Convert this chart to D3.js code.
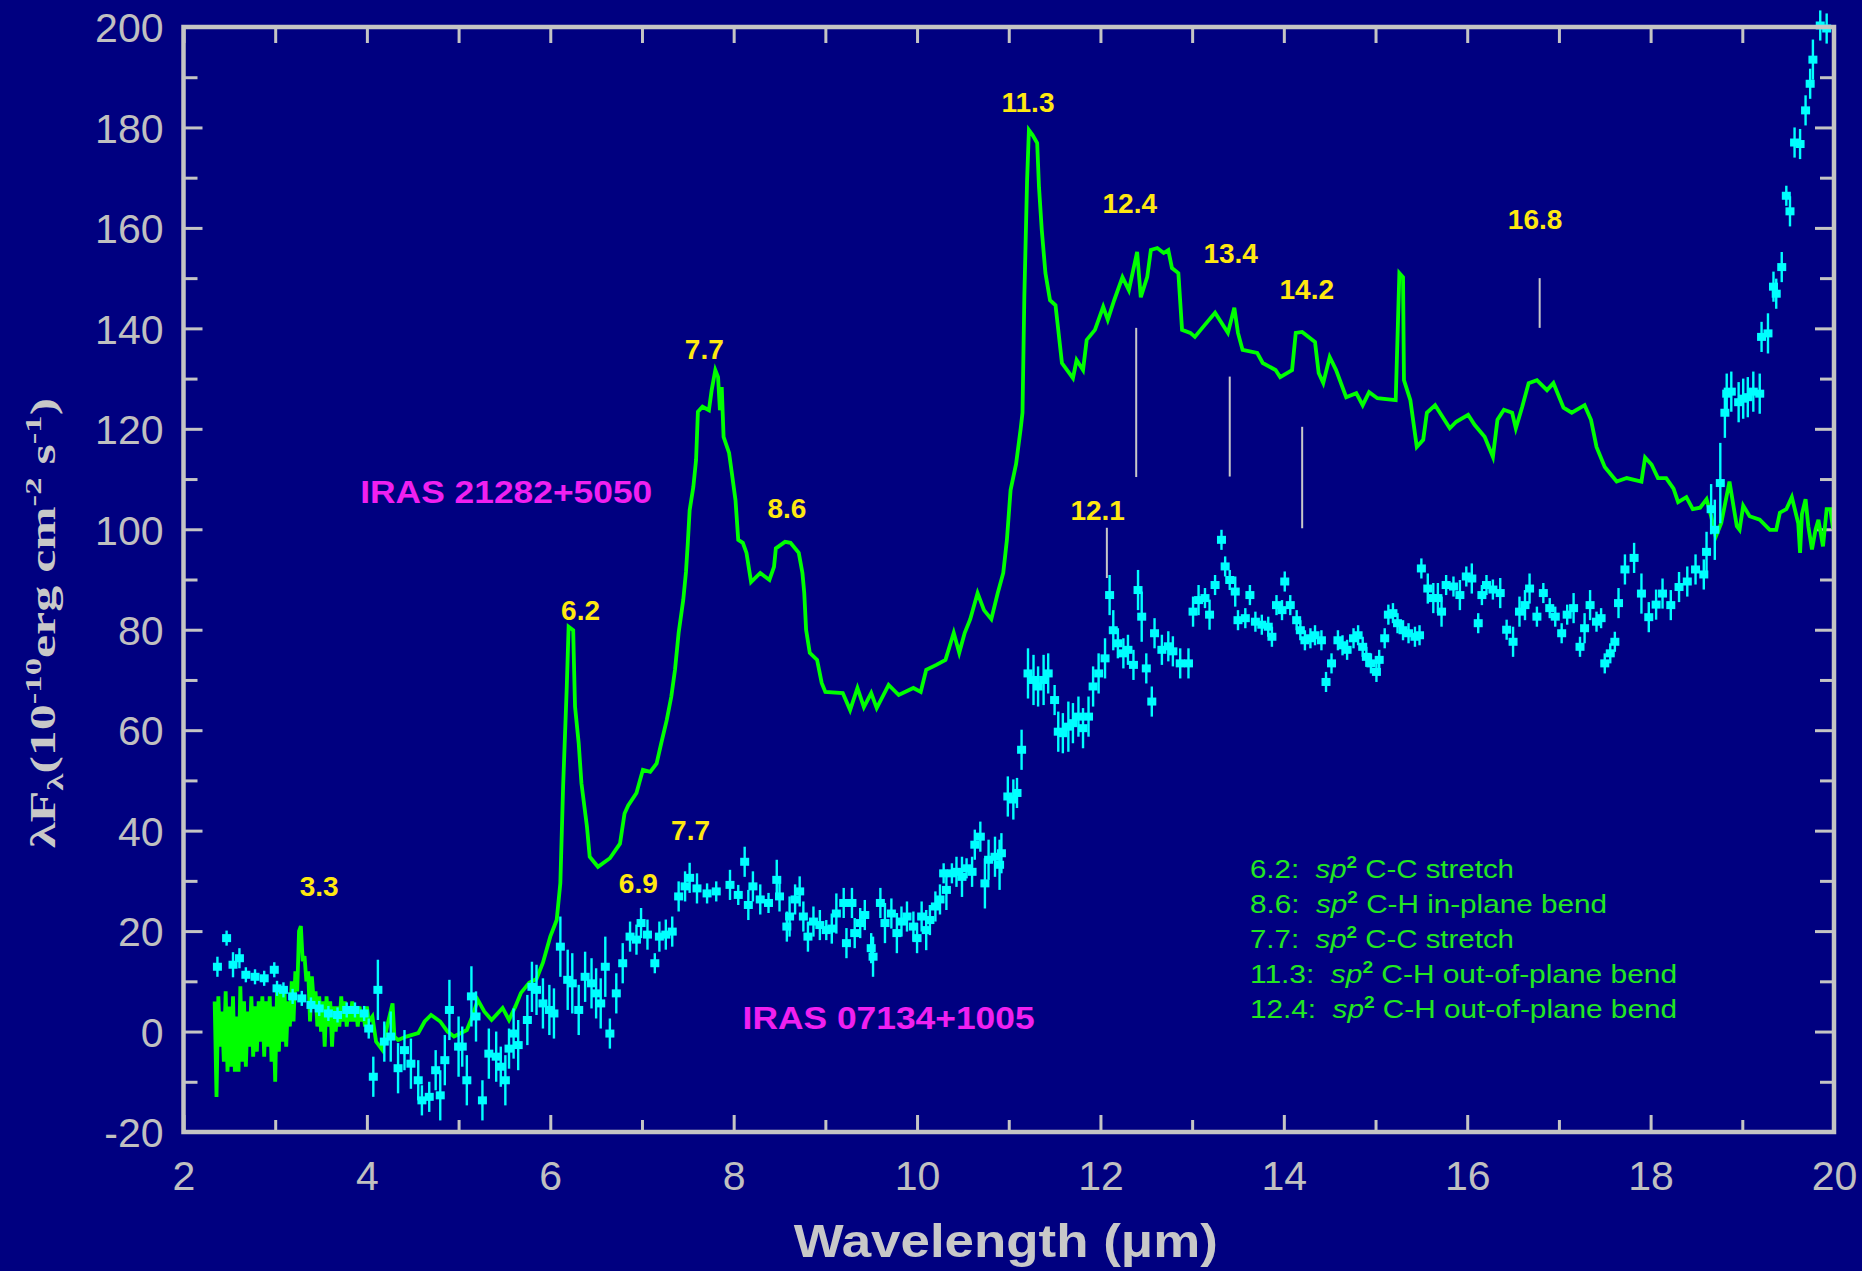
<!DOCTYPE html>
<html>
<head>
<meta charset="utf-8">
<script src="https://cdn.jsdelivr.net/npm/d3@7"></script>
<style>
  html, body { margin: 0; padding: 0; background: #000080; }
  svg { display: block; }
</style>
</head>
<body>
<div id="chart"></div>
<script>
// ---- data ----
const xTickValues = [2, 3, 4, 5, 6, 7, 8, 9, 10, 11, 12, 13, 14, 15, 16, 17, 18, 19, 20];
const xLabelValues = [2, 4, 6, 8, 10, 12, 14, 16, 18, 20];
const yTickValues = [-20, -10, 0, 10, 20, 30, 40, 50, 60, 70, 80, 90, 100, 110, 120, 130, 140, 150, 160, 170, 180, 190, 200];
const yLabelValues = [-20, 0, 20, 40, 60, 80, 100, 120, 140, 160, 180, 200];

// IRAS 21282+5050 (green line), [wavelength, flux]
const iras21282 = [
  [2.34, 6], [2.36, -13], [2.38, 7], [2.40, -3], [2.42, 4], [2.44, -6], [2.46, 8], [2.48, -8],
  [2.50, 5], [2.52, -7], [2.54, 7], [2.56, -8], [2.58, 3], [2.60, -8], [2.62, 9], [2.64, -6],
  [2.66, 6], [2.68, -7], [2.70, 4], [2.72, -3], [2.74, 7], [2.76, -5], [2.78, 5], [2.80, -4],
  [2.82, 6], [2.84, -2], [2.86, 7], [2.88, -5], [2.90, 6], [2.92, -3], [2.94, 7], [2.96, -6],
  [2.98, 5], [3.00, -10], [3.02, 8], [3.04, -4], [3.06, 8], [3.08, -2], [3.10, 9], [3.12, -3],
  [3.14, 6], [3.16, 1], [3.18, 10], [3.20, 2], [3.22, 12], [3.24, 8], [3.26, 20], [3.28, 21],
  [3.30, 14], [3.32, 15], [3.34, 10], [3.36, 12], [3.38, 2], [3.40, 11], [3.42, 6], [3.44, 8],
  [3.46, 1], [3.48, 7], [3.50, 0], [3.52, 6], [3.54, -3], [3.56, 7], [3.58, 1], [3.60, 6],
  [3.62, -3], [3.64, 5], [3.66, 0], [3.68, 5], [3.70, 1], [3.72, 7], [3.74, 2], [3.76, 6],
  [3.78, 1], [3.80, 5], [3.82, 2], [3.84, 6], [3.86, 2], [3.88, 5], [3.90, 1], [3.92, 5],
  [3.94, 2], [3.96, 4], [3.98, 1], [4.00, 5], [4.02, 2], [4.06, 3], [4.10, -2], [4.17, -3.7],
  [4.22, 1], [4.28, 5.6], [4.30, -1], [4.34, -1.7], [4.43, -1.0], [4.56, -0.3], [4.63, 2], [4.70, 3.3],
  [4.80, 2.0], [4.88, 0], [4.95, -1.0], [5.09, 0.3], [5.15, 3], [5.21, 6.3], [5.28, 4], [5.36, 2.3],
  [5.48, 4.7], [5.55, 2.3], [5.62, 5], [5.68, 7.7], [5.77, 9.7], [5.85, 10.5], [5.92, 13.7], [6.00, 18.9],
  [6.07, 22.2], [6.11, 29.6], [6.14, 48.8], [6.18, 68.7], [6.20, 80.6], [6.25, 79.9], [6.26, 72], [6.27, 64.7],
  [6.31, 57.4], [6.34, 49.4], [6.40, 40.8], [6.43, 34.8], [6.52, 32.8], [6.65, 34.5], [6.76, 37.4], [6.81, 43.4],
  [6.85, 45], [6.94, 47.5], [7.01, 52.1], [7.09, 51.7], [7.16, 53.4], [7.21, 57.4], [7.27, 62], [7.32, 66.7],
  [7.36, 72], [7.40, 79.4], [7.45, 85.9], [7.48, 91.5], [7.50, 97.3], [7.52, 103.8], [7.56, 108.4], [7.59, 113.8],
  [7.61, 123.4], [7.66, 124.4], [7.73, 123.7], [7.76, 127.7], [7.80, 131.7], [7.83, 130.3], [7.85, 123.7], [7.87, 128.3],
  [7.89, 118.4], [7.95, 115.2], [7.98, 111.2], [8.02, 105.8], [8.05, 97.9], [8.10, 97.3], [8.14, 95.3], [8.19, 89.5],
  [8.29, 91.3], [8.39, 89.9], [8.44, 92.5], [8.46, 96.2], [8.56, 97.5], [8.62, 97.3], [8.71, 95.3], [8.75, 91.3],
  [8.77, 87.3], [8.79, 80.0], [8.83, 75.4], [8.91, 74], [8.96, 69.4], [9.00, 67.6], [9.19, 67.4], [9.27, 64.0],
  [9.35, 68.4], [9.42, 64.6], [9.50, 67.4], [9.56, 64.4], [9.69, 69.0], [9.80, 67.0], [9.96, 68.4], [10.04, 67.6],
  [10.10, 72.0], [10.21, 73.0], [10.31, 74.0], [10.40, 79.4], [10.46, 75.4], [10.52, 79.4], [10.58, 82.1], [10.66, 87.3],
  [10.73, 83.9], [10.81, 82.1], [10.88, 87.3], [10.94, 91.3], [10.98, 97.9], [11.02, 107.8], [11.08, 113], [11.13, 120],
  [11.15, 123.2], [11.17, 146.3], [11.20, 169.5], [11.22, 179.5], [11.26, 178.5], [11.31, 176.9], [11.33, 168.1], [11.36, 159.6],
  [11.40, 151], [11.45, 145.6], [11.51, 144.6], [11.54, 139.7], [11.58, 133.1], [11.70, 130.1], [11.74, 133.7], [11.81, 131.7],
  [11.85, 137.7], [11.94, 139.7], [12.03, 144.3], [12.08, 141.7], [12.15, 145.6], [12.24, 150.2], [12.31, 147.6], [12.40, 155.2],
  [12.44, 146.2], [12.51, 150.2], [12.55, 155.6], [12.62, 156], [12.69, 155], [12.74, 155.6], [12.78, 152], [12.85, 151],
  [12.89, 139.7], [12.98, 139.1], [13.03, 138.3], [13.12, 140.3], [13.25, 143.1], [13.39, 139.1], [13.46, 144.1], [13.50, 139.1],
  [13.55, 135.7], [13.71, 135.1], [13.77, 133.1], [13.91, 131.7], [13.96, 130.3], [14.09, 131.7], [14.13, 139.1], [14.20, 139.3],
  [14.34, 137.3], [14.38, 131.1], [14.43, 129.1], [14.50, 134.3], [14.57, 131.7], [14.68, 126.3], [14.79, 127.1], [14.86, 124.7],
  [14.93, 127.3], [15.02, 126.1], [15.22, 125.7], [15.26, 151], [15.30, 150.2], [15.31, 129.7], [15.38, 125.7], [15.45, 116.4],
  [15.52, 117.8], [15.56, 123.2], [15.65, 124.7], [15.81, 120.1], [15.88, 121.4], [16.01, 122.8], [16.08, 120.8], [16.19, 118.4],
  [16.28, 114.4], [16.33, 121.8], [16.40, 123.8], [16.49, 123.2], [16.53, 120.1], [16.60, 124.4], [16.67, 129.1], [16.76, 129.7],
  [16.87, 127.7], [16.94, 129.1], [17.05, 124.2], [17.14, 123.2], [17.28, 124.7], [17.35, 121.8], [17.41, 116.4], [17.50, 112.4],
  [17.63, 109.5], [17.74, 110.2], [17.90, 109.5], [17.94, 114.3], [18.01, 112.9], [18.08, 110.2], [18.17, 110.2], [18.25, 108.1],
  [18.30, 105.4], [18.39, 106.4], [18.46, 104.0], [18.54, 104.3], [18.61, 106.0], [18.66, 102.6], [18.71, 98.5], [18.77, 101.2],
  [18.86, 109.5], [18.94, 100.6], [18.97, 99.9], [19.01, 104.7], [19.08, 102.6], [19.19, 101.9], [19.30, 99.9], [19.37, 99.9],
  [19.41, 103.3], [19.48, 104.0], [19.54, 106.4], [19.61, 101.2], [19.63, 95.3], [19.65, 103], [19.69, 106.0], [19.72, 100.6],
  [19.76, 96], [19.80, 100], [19.83, 101.9], [19.88, 96.6], [19.92, 104], [19.96, 104.0], [19.99, 100]
];

// IRAS 07134+1005 (cyan points), [wavelength, flux, error]
const iras07134 = [
  [2.37, 12.9, 2], [2.47, 18.6, 1.5], [2.54, 13.3, 2.5], [2.61, 14.6, 2], [2.68, 11.3, 1.5], [2.78, 10.9, 1.5],
  [2.88, 10.6, 1.5], [2.99, 12.3, 1.5], [3.02, 8.6, 1.5], [3.09, 8.3, 1.5], [3.19, 7.0, 1.5], [3.29, 6.6, 1.5],
  [3.39, 5.3, 1.5], [3.48, 4.6, 1.5], [3.58, 3.6, 1.5], [3.68, 3.3, 1.5], [3.78, 4.3, 1.5], [3.87, 4.3, 1.5],
  [3.97, 3.6, 1.5], [4.02, 0.6, 2], [4.07, -9.0, 4], [4.12, 8.3, 6], [4.19, -2.0, 4], [4.26, -1.0, 5],
  [4.34, -7.3, 5], [4.41, -3.7, 4], [4.48, -6.4, 5], [4.56, -9.7, 4], [4.60, -13.7, 3], [4.68, -13.0, 3],
  [4.75, -7.7, 4], [4.80, -12.7, 5], [4.85, -5.7, 5], [4.90, 4.3, 6], [5.00, -3.0, 6], [5.04, -3.0, 4],
  [5.09, -9.7, 5], [5.14, 7.0, 6], [5.19, 3.0, 5], [5.26, -13.7, 4], [5.33, -4.4, 5], [5.41, -5.0, 5],
  [5.46, -7.0, 4], [5.51, -9.7, 5], [5.55, -3.4, 4], [5.60, -0.4, 5], [5.65, -2.7, 5], [5.75, 2.3, 5],
  [5.80, 8.9, 5], [5.85, 8.3, 5], [5.92, 5.6, 5], [5.99, 4.3, 5], [6.04, 3.6, 5], [6.11, 16.9, 6],
  [6.19, 10.3, 6], [6.24, 9.6, 6], [6.31, 4.3, 5], [6.38, 10.9, 5], [6.45, 9.6, 5], [6.50, 7.6, 5],
  [6.55, 5.6, 5], [6.60, 12.9, 6], [6.65, -0.4, 3], [6.72, 7.6, 4], [6.79, 13.6, 4], [6.87, 18.9, 3],
  [6.94, 18.3, 3], [6.99, 21.6, 3], [7.06, 19.3, 3], [7.14, 13.6, 2], [7.19, 18.9, 3], [7.26, 19.3, 3],
  [7.33, 19.9, 3], [7.40, 26.9, 3], [7.47, 28.9, 3], [7.52, 30.6, 3], [7.60, 28.5, 3], [7.71, 27.5, 2],
  [7.81, 27.9, 2], [7.96, 29.2, 3], [8.05, 27.2, 2], [8.12, 33.8, 3], [8.16, 25.2, 3], [8.21, 28.9, 3],
  [8.29, 26.3, 3], [8.38, 25.6, 2], [8.47, 30.2, 4], [8.50, 26.9, 3], [8.58, 20.9, 3], [8.61, 22.9, 4],
  [8.67, 26.3, 3], [8.72, 27.9, 3], [8.76, 22.9, 3], [8.81, 18.9, 3], [8.87, 21.9, 3], [8.94, 21.2, 3],
  [9.01, 20.2, 2], [9.07, 20.5, 3], [9.12, 23.5, 4], [9.20, 25.6, 3], [9.23, 17.6, 3], [9.29, 25.6, 3],
  [9.32, 19.6, 3], [9.38, 21.6, 3], [9.43, 23.2, 3], [9.50, 16.6, 3], [9.52, 14.9, 4], [9.60, 25.6, 3],
  [9.65, 21.6, 4], [9.72, 23.5, 3], [9.78, 19.6, 4], [9.83, 21.9, 3], [9.89, 22.9, 3], [9.96, 20.9, 3],
  [10.00, 18.6, 3], [10.05, 22.9, 3], [10.10, 20.2, 4], [10.14, 22.2, 3], [10.20, 24.9, 3], [10.25, 26.3, 3],
  [10.29, 31.5, 2], [10.32, 28.2, 4], [10.38, 31.5, 2], [10.43, 31.8, 3], [10.49, 30.8, 4], [10.54, 32.5, 2],
  [10.60, 31.8, 3], [10.63, 37.2, 3], [10.69, 38.8, 3], [10.74, 29.5, 5], [10.78, 34.2, 4], [10.85, 34.8, 4],
  [10.90, 33.2, 5], [10.92, 35.5, 4], [10.99, 46.8, 4], [11.05, 46.2, 4], [11.09, 47.5, 3], [11.14, 56.1, 4],
  [11.21, 71.3, 5], [11.27, 70, 5], [11.32, 68.7, 4], [11.38, 70, 5], [11.43, 71.3, 4], [11.50, 66.0, 3],
  [11.54, 59.7, 4], [11.59, 59.4, 4], [11.65, 60.7, 5], [11.70, 61.4, 4], [11.76, 62.7, 4], [11.81, 60.4, 4],
  [11.87, 62.7, 4], [11.92, 68.7, 4], [11.98, 71.3, 4], [12.05, 74.3, 4], [12.10, 86.9, 4], [12.14, 79.9, 4],
  [12.19, 77.3, 3], [12.25, 75.3, 3], [12.30, 76.0, 3], [12.36, 73.0, 3], [12.41, 87.9, 4], [12.45, 82.6, 5],
  [12.50, 72.3, 3], [12.56, 65.7, 3], [12.59, 79.3, 3], [12.67, 76.0, 3], [12.74, 76.7, 3], [12.79, 75.7, 3],
  [12.87, 73.3, 3], [12.96, 73.3, 3], [13.01, 83.6, 3], [13.07, 85.9, 3], [13.14, 86.3, 2], [13.19, 83.0, 3],
  [13.25, 88.9, 2], [13.32, 97.9, 2], [13.36, 92.6, 2], [13.41, 89.9, 2], [13.47, 87.6, 3], [13.50, 81.9, 2],
  [13.58, 82.3, 2], [13.63, 86.9, 2], [13.69, 81.6, 2], [13.76, 81.0, 2], [13.83, 80.6, 2], [13.87, 78.6, 2],
  [13.92, 84.9, 2], [13.98, 83.9, 2], [14.01, 89.6, 2], [14.07, 84.9, 2], [14.14, 81.9, 2], [14.18, 79.9, 2],
  [14.23, 77.9, 2], [14.29, 78.3, 2], [14.34, 78.9, 2], [14.41, 77.9, 2], [14.46, 69.6, 2], [14.52, 73.3, 2],
  [14.59, 77.9, 2], [14.64, 76.9, 2], [14.69, 76.0, 2], [14.76, 78.3, 2], [14.81, 78.9, 2], [14.86, 76.6, 2],
  [14.90, 74.6, 2], [14.95, 73.3, 2], [15.01, 71.6, 2], [15.04, 74.0, 2], [15.10, 78.3, 2], [15.14, 83.0, 2],
  [15.19, 83.3, 2], [15.24, 81.3, 2], [15.30, 79.9, 2], [15.36, 79.3, 2], [15.43, 78.6, 2], [15.48, 78.9, 2],
  [15.50, 92.2, 2], [15.57, 88.2, 3], [15.63, 86.3, 3], [15.68, 86.3, 3], [15.72, 83.6, 3], [15.77, 88.9, 2],
  [15.85, 88.6, 2], [15.92, 86.9, 3], [15.99, 90.6, 2], [16.05, 90.2, 3], [16.12, 81.3, 2], [16.16, 86.9, 2],
  [16.21, 88.9, 2], [16.28, 88.0, 2], [16.36, 87.3, 3], [16.43, 80.0, 2], [16.50, 77.6, 3], [16.57, 83.6, 3],
  [16.63, 84.9, 3], [16.68, 88.2, 3], [16.76, 82.6, 2], [16.83, 87.3, 2], [16.90, 84.3, 2], [16.96, 82.6, 2],
  [17.03, 79.3, 2], [17.09, 83.0, 2], [17.16, 84.3, 3], [17.23, 76.6, 2], [17.28, 80.3, 3], [17.34, 84.9, 3],
  [17.41, 81.6, 2], [17.46, 82.3, 2], [17.50, 73.3, 2], [17.56, 75.3, 2], [17.61, 77.6, 2], [17.65, 85.3, 3],
  [17.72, 92, 3], [17.82, 94.3, 3], [17.90, 87.2, 4], [17.98, 82.5, 3], [18.06, 85, 3], [18.13, 87.2, 3],
  [18.22, 84.9, 3], [18.31, 88.5, 3], [18.40, 89.6, 3], [18.49, 92, 3], [18.58, 91, 3], [18.61, 95.5, 4],
  [18.66, 104.0, 5], [18.70, 99.9, 6], [18.76, 109.2, 8], [18.81, 123.2, 5], [18.83, 127.0, 4], [18.88, 127.4, 4],
  [18.96, 125.3, 4], [19.01, 126.0, 4], [19.06, 126.3, 4], [19.12, 127.4, 4], [19.19, 127.0, 4], [19.21, 138.3, 3],
  [19.28, 139, 4], [19.34, 148.3, 3], [19.37, 146.9, 3], [19.43, 152.2, 3], [19.48, 166.4, 2], [19.52, 163.3, 3],
  [19.57, 177.0, 3], [19.63, 176.7, 3], [19.69, 183.4, 3], [19.74, 188.7, 3], [19.77, 193.5, 4], [19.85, 200.3, 3],
  [19.92, 199.7, 3]
];

// band labels: [text, wavelength, flux at label centre]
const bandLabels = [
  ["3.3", 3.48, 29], ["6.2", 6.33, 84], ["7.7", 7.68, 136], ["8.6", 8.58, 104.2],
  ["11.3", 11.21, 185.1], ["12.4", 12.32, 165], ["13.4", 13.42, 155], ["14.2", 14.25, 147.8],
  ["16.8", 16.74, 161.7], ["12.1", 11.97, 103.8], ["6.9", 6.96, 29.6], ["7.7", 7.53, 40.1]
];
// marker ticks: [wavelength, flux top, flux bottom]
const bandMarks = [
  [12.07, 100.3, 90.3], [12.39, 140.1, 110.4], [13.41, 130.4, 110.5], [14.20, 120.4, 100.2], [16.79, 150, 140.1]
];
// object names: [name, wavelength, flux at centre]
const objectNames = [["IRAS 21282+5050", 5.52, 107.4], ["IRAS 07134+1005", 9.69, 2.7]];
// assignment notes
const noteBands = ["6.2:", "8.6:", "7.7:", "11.3:", "12.4:"];
const noteModes = ["C-C stretch", "C-H in-plane bend", "C-C stretch", "C-H out-of-plane bend", "C-H out-of-plane bend"];

// ---- layout ----
const W = 1862, H = 1271;
const margin = {top: 27, right: 28, bottom: 139, left: 183.5};
const width = W - margin.left - margin.right;
const height = H - margin.top - margin.bottom;
const axisColor = "#c4c4c4";

const svg = d3.select("#chart").append("svg")
  .attr("width", W).attr("height", H)
  .style("background", "#000080");

svg.append("rect").attr("width", W).attr("height", H).attr("fill", "#000080");

const chart = svg.append("g").attr("transform", "translate(" + margin.left + "," + margin.top + ")");

const xScale = d3.scaleLinear().domain([2, 20]).range([0, width]);
const yScale = d3.scaleLinear().domain([-20, 200]).range([height, 0]);

// axes, ticks pointing inward on all four sides
const isMajorX = d => d % 2 === 0;
const isMajorY = d => d % 20 === 0;

const axisB = chart.append("g").attr("transform", "translate(0," + height + ")")
  .call(d3.axisBottom(xScale).tickValues(xTickValues).tickSizeInner(-17).tickSizeOuter(0)
    .tickFormat(d => xLabelValues.includes(d) ? d : ""));
axisB.selectAll(".tick line").attr("y2", d => isMajorX(d) ? -17 : -12);
axisB.selectAll(".tick text").attr("y", 58).attr("dy", null);

const axisT = chart.append("g")
  .call(d3.axisTop(xScale).tickValues(xTickValues).tickSizeInner(-16).tickSizeOuter(0).tickFormat(""));

const axisL = chart.append("g")
  .call(d3.axisLeft(yScale).tickValues(yTickValues).tickSizeInner(-19).tickSizeOuter(0)
    .tickFormat(d => yLabelValues.includes(d) ? d : ""));
axisL.selectAll(".tick line").attr("x2", d => isMajorY(d) ? 19 : 14);
axisL.selectAll(".tick text").attr("x", -20).attr("dy", "0.36em");

const axisR = chart.append("g").attr("transform", "translate(" + width + ",0)")
  .call(d3.axisRight(yScale).tickValues(yTickValues).tickSizeInner(-19).tickSizeOuter(0).tickFormat(""));
axisR.selectAll(".tick line").attr("x2", d => isMajorY(d) ? -19 : -14);

chart.selectAll(".domain").remove();
chart.selectAll(".tick line").attr("stroke", axisColor).attr("stroke-width", 3);
chart.selectAll(".tick text")
  .attr("fill", "#c0c0c0")
  .style("font-family", "'Liberation Sans', Arial, sans-serif")
  .style("font-size", "41px");

// green spectrum
const line = d3.line().x(d => xScale(d[0])).y(d => yScale(d[1]));
chart.append("path")
  .datum(iras21282)
  .attr("d", line)
  .attr("fill", "none")
  .attr("stroke", "#00ff00")
  .attr("stroke-width", 3.8)
  .attr("stroke-linejoin", "miter");

// cyan points with error bars
const pts = chart.append("g").selectAll("g").data(iras07134).join("g");
pts.append("line")
  .attr("x1", d => xScale(d[0])).attr("x2", d => xScale(d[0]))
  .attr("y1", d => yScale(d[1] - d[2])).attr("y2", d => yScale(d[1] + d[2]))
  .attr("stroke", "#00ffff").attr("stroke-width", 2.4);
pts.append("rect")
  .attr("x", d => xScale(d[0]) - 4.5).attr("y", d => yScale(d[1]) - 4)
  .attr("width", 9).attr("height", 8)
  .attr("fill", "#00ffff");

// frame
chart.append("rect")
  .attr("width", width).attr("height", height)
  .attr("fill", "none").attr("stroke", axisColor).attr("stroke-width", 4.5);

// band marker lines
chart.append("g").selectAll("line").data(bandMarks).join("line")
  .attr("x1", d => xScale(d[0])).attr("x2", d => xScale(d[0]))
  .attr("y1", d => yScale(d[1])).attr("y2", d => yScale(d[2]))
  .attr("stroke", "#c8c8c8").attr("stroke-width", 2);

// band labels
chart.append("g").selectAll("text").data(bandLabels).join("text")
  .attr("x", d => xScale(d[1])).attr("y", d => yScale(d[2]))
  .attr("dy", "0.36em")
  .attr("text-anchor", "middle")
  .attr("fill", "#ffe810")
  .style("font-family", "'Liberation Sans', Arial, sans-serif")
  .style("font-weight", "bold")
  .style("font-size", "28px")
  .text(d => d[0]);

// object names
chart.append("g").selectAll("text").data(objectNames).join("text")
  .attr("x", d => xScale(d[1])).attr("y", d => yScale(d[2]))
  .attr("dy", "0.36em")
  .attr("text-anchor", "middle")
  .attr("textLength", 292).attr("lengthAdjust", "spacingAndGlyphs")
  .attr("fill", "#f020f0")
  .style("font-family", "'Liberation Sans', Arial, sans-serif")
  .style("font-weight", "bold")
  .style("font-size", "31px")
  .text(d => d[0]);

// assignment notes (absolute position, lower right)
const noteLengths = [264, 357, 264, 427, 427];
const notes = svg.append("g")
  .style("font-family", "'Liberation Sans', Arial, sans-serif")
  .style("font-size", "25px")
  .attr("fill", "#22e622");
noteBands.forEach((b, i) => {
  const t = notes.append("text")
    .attr("x", 1250).attr("y", 878 + i * 35)
    .attr("textLength", noteLengths[i]).attr("lengthAdjust", "spacingAndGlyphs")
    .attr("xml:space", "preserve");
  t.append("tspan").text(b + "  ");
  t.append("tspan").style("font-style", "italic").text("sp");
  t.append("tspan").attr("dy", -10).style("font-size", "16px").style("font-weight", "bold").text("2");
  t.append("tspan").attr("dy", 10).text(" " + noteModes[i]);
});

// x axis title
svg.append("text")
  .attr("x", margin.left + width / 2 - 3).attr("y", 1257)
  .attr("text-anchor", "middle")
  .attr("textLength", 424).attr("lengthAdjust", "spacingAndGlyphs")
  .attr("fill", "#c8c8c8")
  .style("font-family", "'Liberation Sans', Arial, sans-serif")
  .style("font-weight", "bold")
  .style("font-size", "47px")
  .text("Wavelength (\u03bcm)");

// y axis title
const yt = svg.append("text")
  .attr("transform", "translate(55,623) rotate(-90)")
  .attr("text-anchor", "middle")
  .attr("textLength", 450).attr("lengthAdjust", "spacingAndGlyphs")
  .attr("fill", "#c8c8c8")
  .style("font-family", "'Liberation Serif', 'Times New Roman', serif")
  .style("font-weight", "bold")
  .style("font-size", "36px");
yt.append("tspan").text("\u03bbF");
yt.append("tspan").attr("dy", 8).style("font-size", "24px").text("\u03bb");
yt.append("tspan").attr("dy", -8).text("(10");
yt.append("tspan").attr("dy", -14).style("font-size", "24px").text("-10");
yt.append("tspan").attr("dy", 14).text("erg cm");
yt.append("tspan").attr("dy", -14).style("font-size", "24px").text("-2");
yt.append("tspan").attr("dy", 14).text(" s");
yt.append("tspan").attr("dy", -14).style("font-size", "24px").text("-1");
yt.append("tspan").attr("dy", 14).text(")");
</script>
</body>
</html>
